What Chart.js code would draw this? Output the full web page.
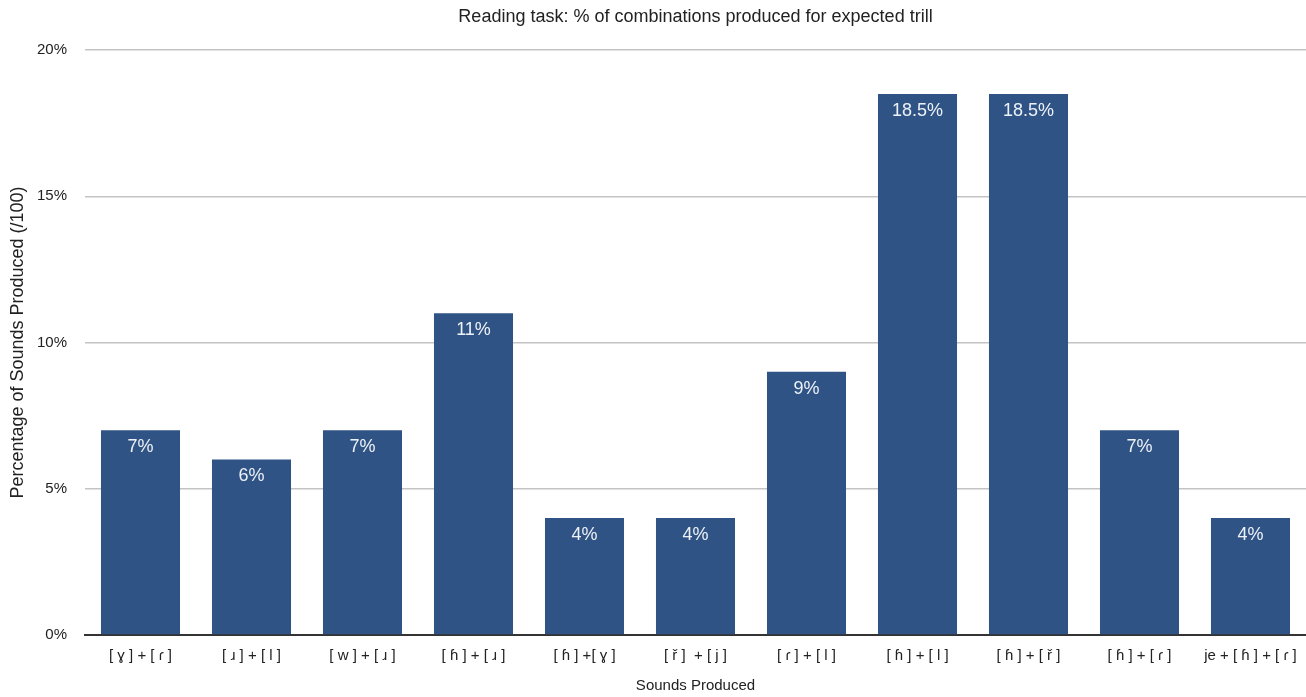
<!DOCTYPE html>
<html>
<head>
<meta charset="utf-8">
<script src="https://cdn.jsdelivr.net/npm/chart.js@4.4.1/dist/chart.umd.min.js"></script>
<style>
  html, body { margin: 0; padding: 0; background: #fff; }
  #wrap { width: 1306px; height: 697px; position: relative; }
</style>
</head>
<body>
<div id="wrap"><canvas id="c" width="1306" height="697"></canvas></div>
<script>
const categories = ["[ ɣ ] + [ ɾ ]", "[ ɹ ] + [ l ]", "[ w ] + [ ɹ ]", "[ ɦ ] + [ ɹ ]", "[ ɦ ] +[ ɣ ]", "[ ř ]  + [ j ]", "[ ɾ ] + [ l ]", "[ ɦ ] + [ l ]", "[ ɦ ] + [ ř ]", "[ ɦ ] + [ ɾ ]", "je + [ ɦ ] + [ ɾ ]"];
const values = [7, 6, 7, 11, 4, 4, 9, 18.5, 18.5, 7, 4];
const valueLabels = ["7%", "6%", "7%", "11%", "4%", "4%", "9%", "18.5%", "18.5%", "7%", "4%"];
const yTicks = [0, 5, 10, 15, 20];

const FONT = "'Liberation Sans', Arial, Helvetica, sans-serif";

const barLabels = {
  id: 'barLabels',
  afterDatasetsDraw(chart) {
    const ctx = chart.ctx;
    const meta = chart.getDatasetMeta(0);
    ctx.save();
    ctx.font = "18px " + FONT;
    ctx.fillStyle = "#eef2f8";
    ctx.textAlign = "center";
    ctx.textBaseline = "middle";
    meta.data.forEach((el, i) => {
      ctx.fillText(valueLabels[i], el.x, el.y + 17);
    });
    ctx.restore();
  }
};

new Chart(document.getElementById('c'), {
  type: 'bar',
  data: {
    labels: categories,
    datasets: [{
      data: values,
      backgroundColor: '#2f5384',
      borderWidth: 0,
      categoryPercentage: 0.712,
      barPercentage: 1.0
    }]
  },
  options: {
    responsive: false,
    animation: false,
    devicePixelRatio: 1,
    layout: { padding: { left: 0, right: -3, top: 0, bottom: 0 } },
    plugins: {
      legend: { display: false },
      tooltip: { enabled: false },
      title: {
        display: true,
        fullSize: false,
        text: 'Reading task: % of combinations produced for expected trill',
        color: '#222',
        font: { family: FONT, size: 18, weight: 'normal' },
        padding: { top: 6, bottom: 22.4 }
      }
    },
    scales: {
      x: {
        grid: { display: false, drawTicks: false },
        border: { display: true, color: '#333', width: 2 },
        ticks: { color: '#222', font: { family: FONT, size: 15 }, padding: 12, maxRotation: 0, autoSkip: false },
        title: { display: true, text: 'Sounds Produced', color: '#222', font: { family: FONT, size: 15 }, padding: { top: 0, bottom: 2 } },
        afterFit(scale) { scale.height = 62; scale.paddingLeft = 0; scale.paddingRight = 0; }
      },
      y: {
        min: 0, max: 20,
        afterBuildTicks(axis) { axis.ticks = yTicks.map(v => ({ value: v })); },
        grid: { color: '#c4c4c4', lineWidth: 1.5, drawTicks: false },
        border: { display: false },
        ticks: { color: '#222', font: { family: FONT, size: 15 }, padding: 18, callback: v => v + '%' },
        title: { display: true, text: 'Percentage of Sounds Produced (/100)', color: '#222', font: { family: FONT, size: 18 }, padding: { top: 7, bottom: 0 } },
        afterFit(scale) { scale.width = 85; scale.paddingTop = 0; scale.paddingBottom = 0; }
      }
    }
  },
  plugins: [barLabels]
});
</script>
</body>
</html>
